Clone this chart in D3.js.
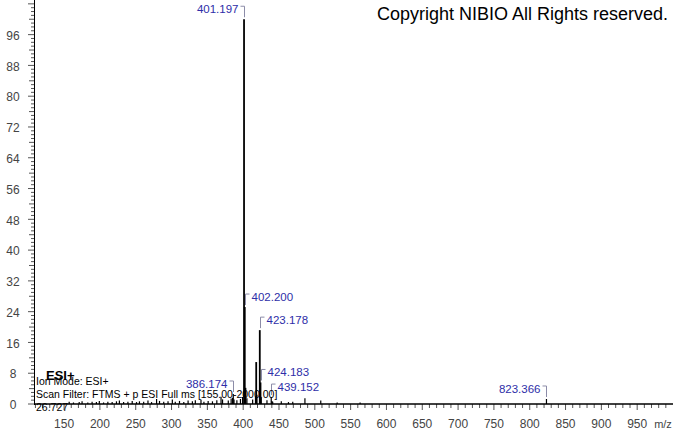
<!DOCTYPE html>
<html>
<head>
<meta charset="utf-8">
<script src="https://cdn.jsdelivr.net/npm/d3@7"></script>
<style>
  body { margin: 0; background: #fff; }
  text { font-family: "Liberation Sans", Arial, sans-serif; }
</style>
</head>
<body>
<script>
'use strict';

// centroid peaks (m/z and relative abundance in %)
const peakMz = [
  157.1, 163.1, 171.1, 175.1, 183.1, 189.1, 195.1, 199.2, 205.1, 211.1,
  217.1, 223.1, 227.2, 233.1, 239.1, 245.1, 251.1, 255.2, 261.1, 267.1,
  272.1, 279.1, 283.2, 289.1, 295.1, 301.1, 305.2, 311.1, 317.1, 323.1,
  329.1, 333.2, 341.1, 345.2, 351.1, 357.1, 363.2, 369.1, 371.2, 379.2,
  383.2, 385.2, 386.174, 387.2, 391.2, 396.2, 399.2, 401.197, 402.200, 403.202,
  405.2, 413.2, 417.2, 418.2, 419.2, 423.178, 424.183, 425.18, 433.2, 439.152,
  440.15, 441.2, 453.2, 463.2, 469.2, 486.2, 508.3, 531.2, 563.2, 823.366
];
const peakIntensity = [
  0.6, 0.4, 0.5, 0.7, 0.4, 0.6, 0.5, 0.8, 0.4, 0.6,
  0.5, 0.7, 0.9, 0.5, 0.6, 0.8, 0.5, 0.7, 0.6, 0.9,
  0.5, 1.3, 0.8, 0.6, 0.7, 1.2, 0.6, 0.8, 0.5, 0.9,
  0.7, 1.0, 1.1, 0.6, 0.8, 0.7, 1.0, 1.9, 1.2, 0.9,
  1.4, 1.6, 2.6, 1.2, 1.0, 1.3, 1.8, 100, 25.2, 4.2,
  1.5, 1.2, 2.0, 10.9, 2.4, 19.2, 5.6, 1.6, 1.0, 1.8,
  0.8, 0.6, 0.7, 0.5, 0.6, 1.5, 0.9, 0.4, 0.4, 1.3
];

// annotated peaks and the side their label sits on
const labelMz = [401.197, 402.200, 423.178, 424.183, 386.174, 439.152, 823.366];
const labelSide = ['left', 'right', 'right', 'right', 'left', 'right', 'left'];

// tick labels
const xTicks = [150, 200, 250, 300, 350, 400, 450, 500, 550, 600, 650, 700, 750, 800, 850, 900, 950];
const yTicks = [0, 8, 16, 24, 32, 40, 48, 56, 64, 72, 80, 88, 96];

const infoLines = ['Ion Mode: ESI+', 'Scan Filter: FTMS + p ESI Full ms [155.00-2000.00]', '26.727'];

(function () {

  let svgContainer = "";

  window.onload = function () {
    svgContainer = d3.select('body')
      .append('svg')
      .attr('width', 673)
      .attr('height', 433);

    let map = drawAxes();
    plotPeaks(map);
    drawLabels(map);
    makeText();
  }

  // axes with minor ticks, drawn like the instrument software does
  function drawAxes() {
    let xScale = d3.scaleLinear()
      .domain([108, 1000])
      .range([34, 673]);

    let yScale = d3.scaleLinear()
      .domain([0, 105])
      .range([404, 0]);

    // x axis: minor tick every 10, longer one every 50
    let xMinor = d3.range(110, 1000, 10);
    svgContainer.append('g')
      .selectAll('line')
      .data(xMinor)
      .enter()
      .append('line')
      .attr('x1', d => xScale(d))
      .attr('x2', d => xScale(d))
      .attr('y1', 404)
      .attr('y2', d => (d % 50 === 0) ? 410 : 408)
      .attr('stroke', '#555')
      .attr('stroke-width', 1);

    svgContainer.append('g')
      .selectAll('text')
      .data(xTicks)
      .enter()
      .append('text')
      .attr('x', d => xScale(d))
      .attr('y', 424)
      .attr('dy', '0.35em')
      .attr('text-anchor', 'middle')
      .style('font-size', '12px')
      .style('fill', '#444')
      .text(d => d);

    svgContainer.append('text')
      .attr('x', 663)
      .attr('y', 424)
      .attr('dy', '0.35em')
      .attr('text-anchor', 'middle')
      .style('font-size', '11px')
      .style('fill', '#444')
      .text('m/z');

    // y axis: minor tick every 1, mid every 4, major every 8
    let yMinor = d3.range(0, 105, 1);
    svgContainer.append('g')
      .selectAll('line')
      .data(yMinor)
      .enter()
      .append('line')
      .attr('x1', d => (d % 8 === 0) ? 28 : (d % 4 === 0 ? 29 : 31))
      .attr('x2', 34)
      .attr('y1', d => yScale(d))
      .attr('y2', d => yScale(d))
      .attr('stroke', '#555')
      .attr('stroke-width', 1);

    svgContainer.append('g')
      .selectAll('text')
      .data(yTicks)
      .enter()
      .append('text')
      .attr('x', 13)
      .attr('y', d => yScale(d) + 1)
      .attr('dy', '0.35em')
      .attr('text-anchor', 'middle')
      .style('font-size', '12px')
      .style('fill', '#444')
      .text(d => d);

    // axis lines
    svgContainer.append('line')
      .attr('x1', 34.5).attr('x2', 34.5)
      .attr('y1', 0).attr('y2', 405)
      .attr('stroke', '#000');

    svgContainer.append('line')
      .attr('x1', 34).attr('x2', 673)
      .attr('y1', 404).attr('y2', 404)
      .attr('stroke', '#000')
      .attr('stroke-width', 1.6);

    return { x: xScale, y: yScale };
  }

  // stick spectrum
  function plotPeaks(map) {
    svgContainer.append('g')
      .selectAll('line')
      .data(peakMz)
      .enter()
      .append('line')
      .attr('x1', d => map.x(d))
      .attr('x2', d => map.x(d))
      .attr('y1', map.y(0))
      .attr('y2', (d, i) => map.y(peakIntensity[i]))
      .attr('stroke', '#000')
      .attr('stroke-width', (d, i) => peakIntensity[i] > 3 ? 1.8 : 1.2);
  }

  // peak labels with the little bracket pointing at the stick
  function drawLabels(map) {
    labelMz.forEach((mz, k) => {
      let i = peakMz.indexOf(mz);
      let px = Math.round(map.x(mz)) + 0.5;
      let py = map.y(peakIntensity[i]);
      let ly = py - 10;
      let dir = labelSide[k] === 'right' ? 1 : -1;

      svgContainer.append('path')
        .attr('d', 'M' + px + ',' + (py - 2) + 'V' + (ly - 3) + 'H' + (px + dir * 4))
        .attr('fill', 'none')
        .attr('stroke', '#8c8ca8')
        .attr('stroke-width', 1);

      svgContainer.append('text')
        .attr('x', px + dir * 6)
        .attr('y', ly)
        .attr('dy', '0.35em')
        .attr('text-anchor', dir > 0 ? 'start' : 'end')
        .style('font-size', '11.5px')
        .style('fill', '#2e2ea8')
        .text(mz.toFixed(3));
    });
  }

  // header and scan info
  function makeText() {
    svgContainer.append('text')
      .attr('x', 377)
      .attr('y', 14)
      .attr('dy', '0.35em')
      .style('font-size', '18px')
      .style('fill', '#000')
      .text('Copyright NIBIO All Rights reserved.');

    svgContainer.append('text')
      .attr('x', 46)
      .attr('y', 375)
      .attr('dy', '0.35em')
      .style('font-size', '13px')
      .style('font-weight', 'bold')
      .text('ESI+');

    svgContainer.append('g')
      .selectAll('text')
      .data(infoLines)
      .enter()
      .append('text')
      .attr('x', 36)
      .attr('y', (d, i) => 381 + i * 13)
      .attr('dy', '0.35em')
      .style('font-size', '10.5px')
      .style('fill', '#000')
      .text(d => d);
  }
})();
</script>
</body>
</html>
